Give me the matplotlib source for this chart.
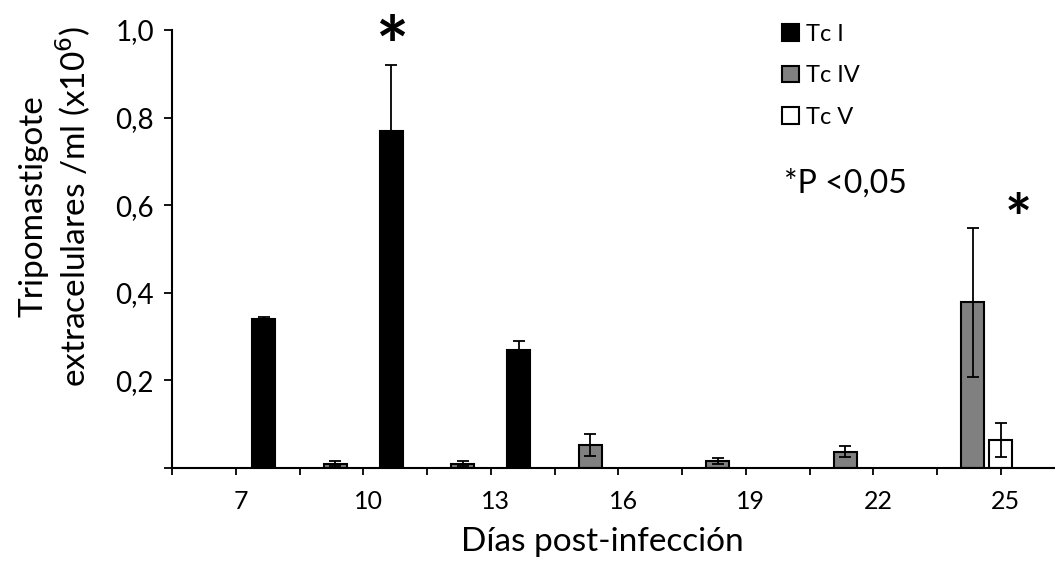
import matplotlib
matplotlib.use("Agg")
import matplotlib.pyplot as plt
import matplotlib.transforms as mtransforms
import numpy as np

days = ['7', '10', '13', '16', '19', '22', '25']
tc1 = [0.34, 0.77, 0.27, np.nan, np.nan, np.nan, np.nan]
tc1_err = [0.005, 0.15, 0.02, np.nan, np.nan, np.nan, np.nan]
tc4 = [np.nan, 0.01, 0.01, 0.052, 0.015, 0.037, 0.378]
tc4_err = [np.nan, 0.005, 0.005, 0.025, 0.007, 0.013, 0.17]
tc5 = [np.nan, np.nan, np.nan, np.nan, np.nan, np.nan, 0.064]
tc5_err = [np.nan, np.nan, np.nan, np.nan, np.nan, np.nan, 0.038]
yticks = [0.2, 0.4, 0.6, 0.8, 1.0]
ytick_labels = ['0,2', '0,4', '0,6', '0,8', '1,0']

plt.rcParams['font.family'] = ['Lato', 'DejaVu Sans']

W, H = 1055, 569
fig = plt.figure(figsize=(W / 100, H / 100), dpi=100)
left, bottom, top = 172, 468, 30
unit = 127.5
ax = fig.add_axes([left / W, (H - bottom) / H, 7 * unit / W, (bottom - top) / H])

x = np.arange(len(days))
off = 0.22
bw = 0.18
ekw = dict(ecolor='black', elinewidth=1.3, capsize=4, capthick=1.3)
ax.bar(x - off, tc4, bw, color='#808080', edgecolor='black', linewidth=1.5,
       yerr=tc4_err, error_kw=ekw, label='Tc IV', zorder=2)
ax.bar(x, tc5, bw, color='white', edgecolor='black', linewidth=1.5,
       yerr=tc5_err, error_kw=ekw, label='Tc V', zorder=2)
ax.bar(x + off, tc1, bw, color='black', edgecolor='black', linewidth=1.5,
       yerr=tc1_err, error_kw=ekw, label='Tc I', zorder=2)

ax.set_xlim(-0.5, 6.5)
ax.set_ylim(0, 1.0)
ax.set_xticks(x)
ax.set_xticklabels(days)
ax.set_xticks(np.arange(-0.5, 7, 1.0), minor=True)
ax.set_yticks([0] + yticks)
ax.set_yticklabels([''] + ytick_labels)
ax.tick_params(axis='x', which='both', length=5, width=1.3, direction='out', labelsize=18, pad=11)
ax.tick_params(axis='y', length=6, width=1.3, direction='out', labelsize=20, pad=7)
shift = mtransforms.ScaledTranslation(5 / 100, 0, fig.dpi_scale_trans)
for lab in ax.get_xticklabels():
    lab.set_transform(lab.get_transform() + shift)
for s in ['top', 'right']:
    ax.spines[s].set_visible(False)
for s in ['left', 'bottom']:
    ax.spines[s].set_linewidth(1.5)

fig.text(602 / W, 1 - 551 / H, 'Días post-infección', ha='center', va='baseline', fontsize=24)
fig.text(56 / W, 1 - 206 / H, 'Tripomastigote\nextracelulares /ml (x10$^{6}$)', rotation=90,
         ha='center', va='center', fontsize=24, linespacing=1.15)

# significance marks
ax.text(1 + off, 0.95, '*', ha='center', va='center', fontsize=56, fontweight='bold')
ax.text(6.135, 0.56, '*', ha='center', va='center', fontsize=46, fontweight='bold')
fig.text(784 / W, 1 - 184 / H, '*P <0,05', ha='left', va='center', fontsize=23)

handles, labels = ax.get_legend_handles_labels()
order = [2, 0, 1]
fig.legend([handles[i] for i in order], [labels[i] for i in order],
           loc='upper left', bbox_to_anchor=(782 / W, 1 - 24 / H), frameon=False,
           fontsize=17, handlelength=0.7, handleheight=0.7, handletextpad=0.3,
           labelspacing=0.86, borderaxespad=0, borderpad=0)

fig.savefig('out.png', dpi=100)
